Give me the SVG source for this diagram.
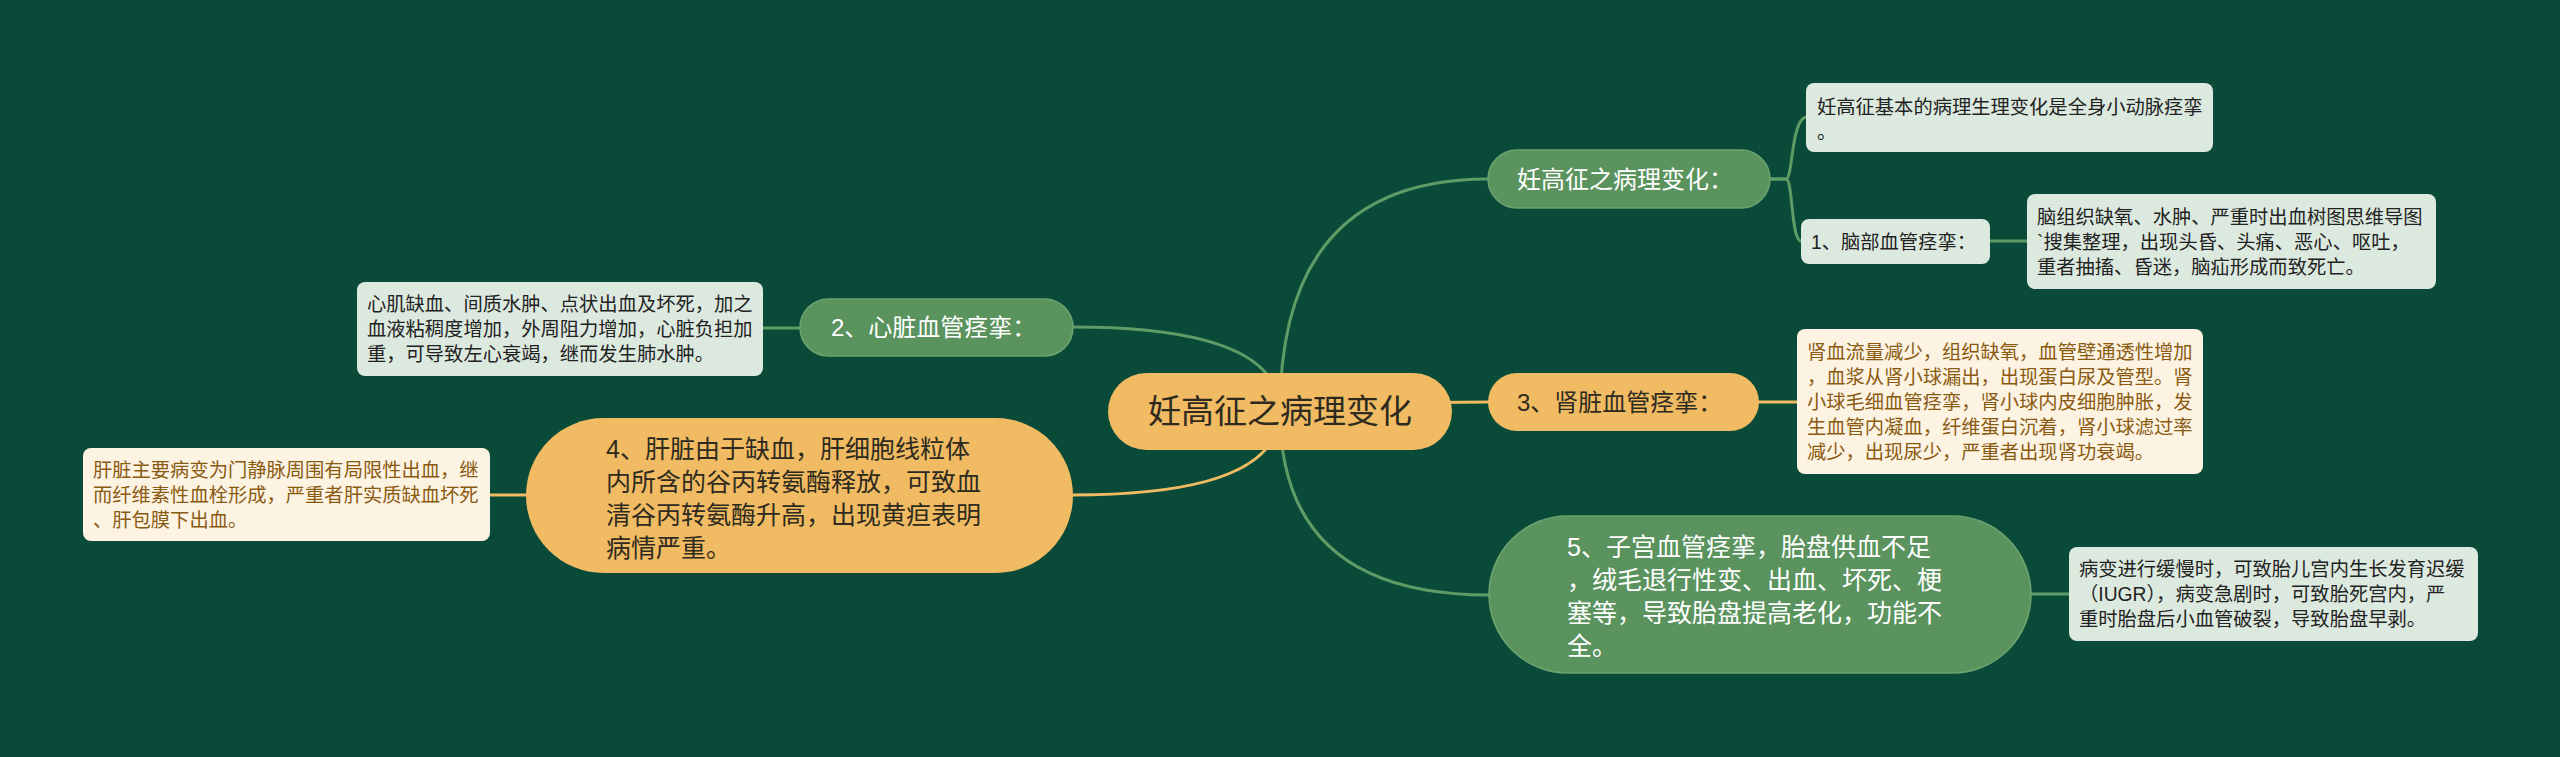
<svg xmlns="http://www.w3.org/2000/svg" width="2560" height="757" viewBox="0 0 2560 757">
<style>
text{font-family:"Liberation Sans","Noto Sans CJK SC",sans-serif;}
.lg{stroke:#5E9B66;stroke-width:3;fill:none;}
.ly{stroke:#F0BB62;stroke-width:3;fill:none;}
.gn{fill:#5A935E;stroke:#6BA46F;stroke-width:1.5;}
.yn{fill:#F0BB62;}
.lf{fill:#DCE9DF;}
.cf{fill:#FDF3E3;}
.wt{fill:#FFFFFF;font-size:24px;}
.dt{fill:#2E2A20;font-size:24px;}
.lt{fill:#222222;font-size:19.3px;}
.bt{fill:#8A5A10;font-size:19.3px;}
.bg{fill:#2E2A20;font-size:25px;}
.bw{fill:#FFFFFF;font-size:25px;}
</style>
<rect x="0" y="0" width="2560" height="757" fill="#0A4A38"/>
<g id="connectors">
<path class="lg" d="M1280,411 Q1280,179 1488,179"/>
<path class="ly" d="M1280,411 Q1380,402 1489,402"/>
<path class="lg" d="M1280,411 Q1280,595 1489,595"/>
<path class="lg" d="M1280,411 Q1280,327 1073,327"/>
<path class="ly" d="M1280,411 Q1280,495 1073,495"/>
<path class="lg" d="M1770,179 H1786 C1793,179 1791,117 1807,117"/>
<path class="lg" d="M1770,179 H1786 C1793,179 1791,241 1801,241"/>
<path class="lg" d="M1990,241 H2027"/>
<path class="ly" d="M1758,402 H1797"/>
<path class="lg" d="M2031,594 H2069"/>
<path class="lg" d="M800,328 H763"/>
<path class="ly" d="M526,495 H490"/>
</g>
<g id="root">
<rect class="yn" x="1108" y="373" width="344" height="77" rx="38.5"/>
<text x="1280" y="423" text-anchor="middle" style="font-size:33px;fill:#2E2A20">妊高征之病理变化</text>
</g>
<g id="n-pathology">
<rect class="gn" x="1488" y="150" width="282" height="58" rx="29"/>
<text class="wt" x="1517" y="187.5">妊高征之病理变化：</text>
</g>
<g id="leaf-basic">
<rect class="lf" x="1806" y="83" width="407" height="69" rx="8"/>
<text class="lt" x="1817" y="113.5">妊高征基本的病理生理变化是全身小动脉痉挛</text>
<text class="lt" x="1817" y="138.5">。</text>
</g>
<g id="n-brain">
<rect class="lf" x="1801" y="219" width="189" height="45" rx="8"/>
<text class="lt" x="1811" y="248.5">1、脑部血管痉挛：</text>
</g>
<g id="leaf-brain">
<rect class="lf" x="2027" y="194" width="409" height="95" rx="8"/>
<text class="lt" x="2037" y="223.5">脑组织缺氧、水肿、严重时出血树图思维导图</text>
<text class="lt" x="2037" y="248.5">`搜集整理，出现头昏、头痛、恶心、呕吐，</text>
<text class="lt" x="2037" y="273.5">重者抽搐、昏迷，脑疝形成而致死亡。</text>
</g>
<g id="n-kidney">
<rect class="yn" x="1488" y="373" width="271" height="58" rx="29"/>
<text class="dt" x="1517" y="410.5">3、肾脏血管痉挛：</text>
</g>
<g id="leaf-kidney">
<rect class="cf" x="1797" y="329" width="406" height="145" rx="8"/>
<text class="bt" x="1807" y="358.5">肾血流量减少，组织缺氧，血管壁通透性增加</text>
<text class="bt" x="1807" y="383.5">，血浆从肾小球漏出，出现蛋白尿及管型。肾</text>
<text class="bt" x="1807" y="408.5">小球毛细血管痉挛，肾小球内皮细胞肿胀，发</text>
<text class="bt" x="1807" y="433.5">生血管内凝血，纤维蛋白沉着，肾小球滤过率</text>
<text class="bt" x="1807" y="458.5">减少，出现尿少，严重者出现肾功衰竭。</text>
</g>
<g id="n-uterus">
<rect class="gn" x="1489" y="516" width="542" height="157" rx="78.5"/>
<text class="bw" x="1567" y="555.5">5、子宫血管痉挛，胎盘供血不足</text>
<text class="bw" x="1567" y="588.5">，绒毛退行性变、出血、坏死、梗</text>
<text class="bw" x="1567" y="621.5">塞等，导致胎盘提高老化，功能不</text>
<text class="bw" x="1567" y="654.5">全。</text>
</g>
<g id="leaf-uterus">
<rect class="lf" x="2069" y="547" width="409" height="94" rx="8"/>
<text class="lt" x="2079" y="576">病变进行缓慢时，可致胎儿宫内生长发育迟缓</text>
<text class="lt" x="2079" y="601">（IUGR），病变急剧时，可致胎死宫内，严</text>
<text class="lt" x="2079" y="626">重时胎盘后小血管破裂，导致胎盘早剥。</text>
</g>
<g id="n-heart">
<rect class="gn" x="800" y="299" width="273" height="57" rx="28.5"/>
<text class="wt" x="831" y="336">2、心脏血管痉挛：</text>
</g>
<g id="leaf-heart">
<rect class="lf" x="357" y="282" width="406" height="94" rx="8"/>
<text class="lt" x="367" y="311">心肌缺血、间质水肿、点状出血及坏死，加之</text>
<text class="lt" x="367" y="336">血液粘稠度增加，外周阻力增加，心脏负担加</text>
<text class="lt" x="367" y="361">重，可导致左心衰竭，继而发生肺水肿。</text>
</g>
<g id="n-liver">
<rect class="yn" x="526" y="418" width="547" height="155" rx="77.5"/>
<text class="bg" x="606" y="457.5">4、肝脏由于缺血，肝细胞线粒体</text>
<text class="bg" x="606" y="490.5">内所含的谷丙转氨酶释放，可致血</text>
<text class="bg" x="606" y="523.5">清谷丙转氨酶升高，出现黄疸表明</text>
<text class="bg" x="606" y="556.5">病情严重。</text>
</g>
<g id="leaf-liver">
<rect class="cf" x="83" y="448" width="407" height="93" rx="8"/>
<text class="bt" x="93" y="476.5">肝脏主要病变为门静脉周围有局限性出血，继</text>
<text class="bt" x="93" y="501.5">而纤维素性血栓形成，严重者肝实质缺血坏死</text>
<text class="bt" x="93" y="526.5">、肝包膜下出血。</text>
</g>
</svg>
